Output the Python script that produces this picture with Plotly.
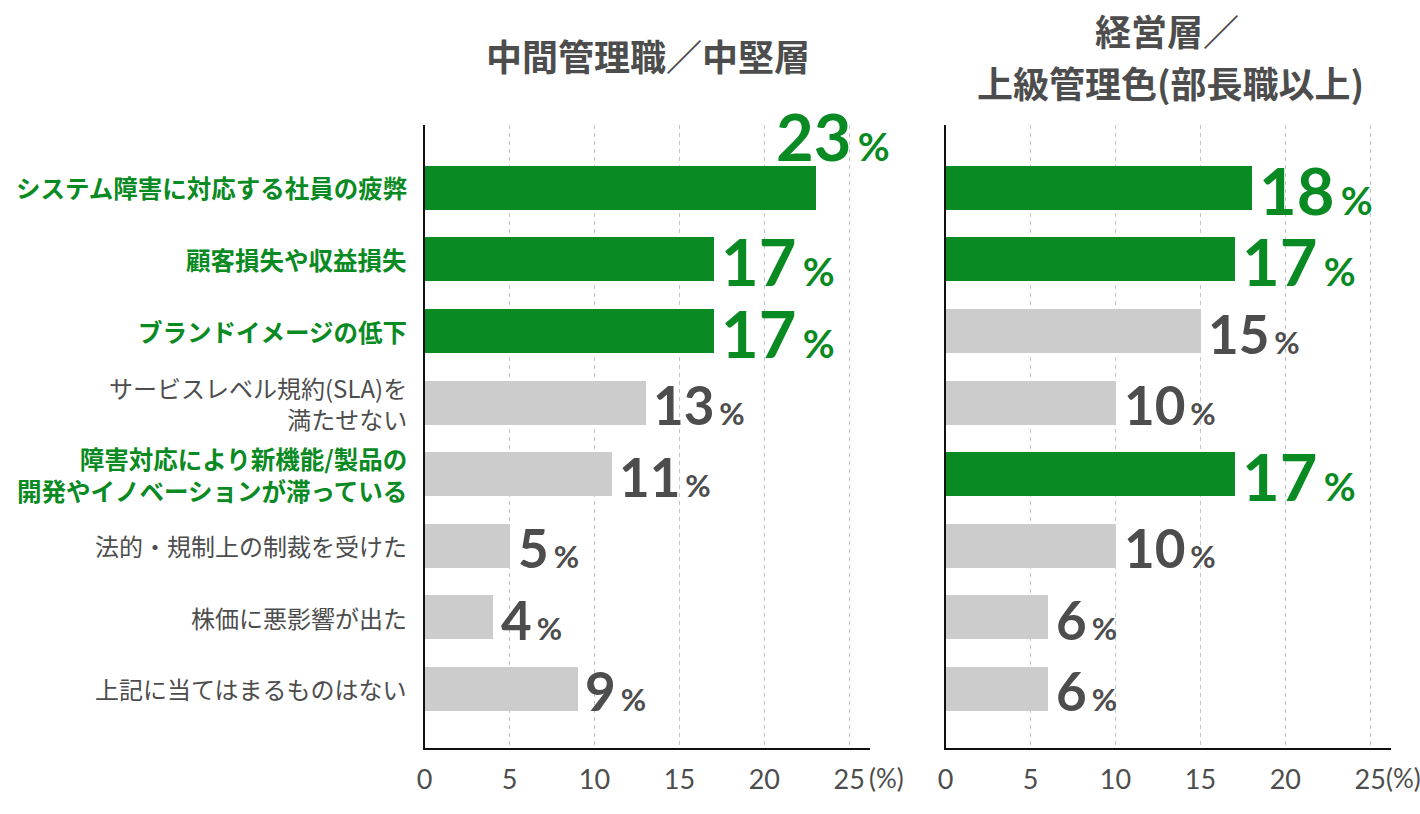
import plotly.graph_objects as go

# ---------------- data ----------------
categories = [
    "システム障害に対応する社員の疲弊",
    "顧客損失や収益損失",
    "ブランドイメージの低下",
    "サービスレベル規約(SLA)を<br>満たせない",
    "障害対応により新機能/製品の<br>開発やイノベーションが滞っている",
    "法的・規制上の制裁を受けた",
    "株価に悪影響が出た",
    "上記に当てはまるものはない",
]
label_highlight = [1, 1, 1, 0, 1, 0, 0, 0]

mid_title = "中間管理職／中堅層"
mid_values = [23, 17, 17, 13, 11, 5, 4, 9]
mid_highlight = [1, 1, 1, 0, 0, 0, 0, 0]

exec_title_1 = "経営層／"
exec_title_2 = "上級管理色(部長職以上)"
exec_values = [18, 17, 15, 10, 17, 10, 6, 6]
exec_highlight = [1, 1, 0, 0, 1, 0, 0, 0]

x_ticks = [0, 5, 10, 15, 20, 25]
unit_label = "(%)"

# ---------------- style ----------------
W, H = 1420, 814
GREEN = "#0a8a22"
GRAY_BAR = "#cccccc"
TEXT_GRAY = "#4d4d4d"
JP = "Noto Sans CJK JP"
NUM = "Lato"

def px_x(p):
    return p / W

def px_y(p):
    return 1 - p / H

x_range = [0, 26.2]
ppu = 17.08
left_dom = [px_x(419), px_x(419 + x_range[1] * ppu)]
right_dom = [px_x(943), px_x(943 + x_range[1] * ppu)]
y_dom = [px_y(748), px_y(125)]
y_idx = list(range(len(categories)))

fig = go.Figure()

def add_panel(values, highlight, xa, ya):
    colors = [GREEN if h else GRAY_BAR for h in highlight]
    fig.add_trace(go.Bar(
        x=values, y=y_idx, orientation="h", width=0.615,
        marker=dict(color=colors, line=dict(width=0)),
        xaxis=xa, yaxis=ya, hoverinfo="skip", showlegend=False,
    ))

add_panel(mid_values, mid_highlight, "x", "y")
add_panel(exec_values, exec_highlight, "x2", "y2")

axis_common_x = dict(
    range=x_range, showline=True, linecolor="#111111", linewidth=2,
    showgrid=True, gridcolor="#c4c4c4", gridwidth=1.3, griddash="4px,4px",
    zeroline=False, tickvals=x_ticks, ticks="", fixedrange=True,
    tickfont=dict(family=NUM, size=27, color=TEXT_GRAY),
    ticklabelstandoff=7,
)
axis_common_y = dict(
    range=[7.83, -0.88], showline=True, linecolor="#111111", linewidth=2,
    showgrid=False, zeroline=False, showticklabels=False, ticks="",
    domain=y_dom, fixedrange=True,
)

fig.update_layout(
    width=W, height=H,
    margin=dict(l=0, r=0, t=0, b=0),
    paper_bgcolor="white", plot_bgcolor="white",
    bargap=0,
    xaxis=dict(domain=left_dom, anchor="y", **axis_common_x),
    yaxis=dict(anchor="x", **axis_common_y),
    xaxis2=dict(domain=right_dom, anchor="y2", **axis_common_x),
    yaxis2=dict(anchor="x2", **axis_common_y),
)

annotations = []

# category labels
for i, (cat, h) in enumerate(zip(categories, label_highlight)):
    txt = f"<b>{cat}</b>" if h else cat
    annotations.append(dict(
        text=txt, xref="paper", yref="y", x=px_x(403), y=i,
        xanchor="right", yanchor="middle", align="right", showarrow=False,
        font=dict(family=JP, size=24.5 if h else 24,
                  color=GREEN if h else TEXT_GRAY),
    ))

# value labels
def value_labels(values, highlight, xref, yref):
    for i, (v, h) in enumerate(zip(values, highlight)):
        big = 65 if h else 53
        small = 39 if h else 31
        gap = 26 if h else 20
        txt = (f"<b>{v}<span style='font-size:{gap}px'> </span>"
               f"<span style='font-size:{small}px'>%</span></b>")
        xs, ys = 6, -2
        if xref == "x" and v == max(values) and h:
            xs, ys = -41, 52
        annotations.append(dict(
            text=txt, xref=xref, yref=yref, x=v, y=i,
            xanchor="left", yanchor="middle", showarrow=False,
            xshift=xs, yshift=ys,
            font=dict(family=NUM, size=big, color=GREEN if h else TEXT_GRAY),
        ))

value_labels(mid_values, mid_highlight, "x", "y")
value_labels(exec_values, exec_highlight, "x2", "y2")

# titles
annotations.append(dict(
    text=f"<b>{mid_title}</b>", xref="paper", yref="paper",
    x=px_x(644), y=px_y(55), xanchor="center", yanchor="middle",
    showarrow=False, font=dict(family=JP, size=36, color=TEXT_GRAY),
))
annotations.append(dict(
    text=f"<b>{exec_title_1}</b>", xref="paper", yref="paper",
    x=px_x(1166), y=px_y(30), xanchor="center", yanchor="middle",
    showarrow=False, font=dict(family=JP, size=36, color=TEXT_GRAY),
))
annotations.append(dict(
    text=f"<b>{exec_title_2}</b>", xref="paper", yref="paper",
    x=px_x(1169), y=px_y(82), xanchor="center", yanchor="middle",
    showarrow=False, font=dict(family=JP, size=36, color=TEXT_GRAY),
))

# unit labels
for xp in (864, 1384):
    annotations.append(dict(
        text=unit_label, xref="paper", yref="paper",
        x=px_x(xp), y=px_y(778), xanchor="left", yanchor="middle",
        showarrow=False, font=dict(family=NUM, size=26, color=TEXT_GRAY),
    ))

fig.update_layout(annotations=annotations)

fig.write_html("out.html")
